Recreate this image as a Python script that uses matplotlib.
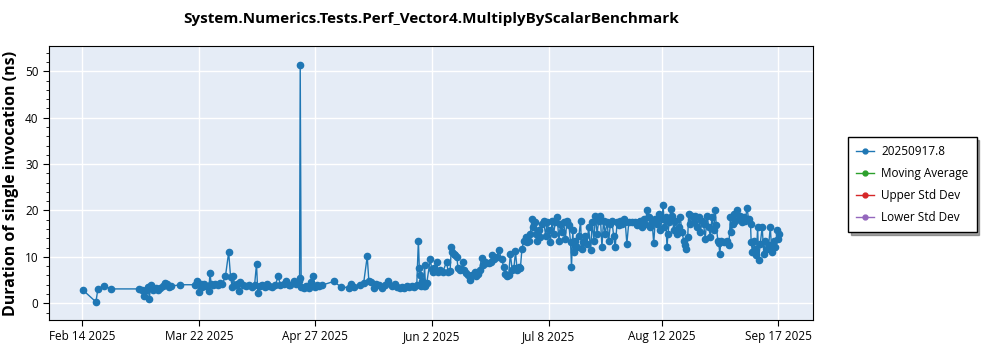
import datetime as dt

import matplotlib
matplotlib.use("Agg")
import matplotlib.pyplot as plt
from matplotlib.lines import Line2D

plt.rcParams["font.family"] = ["Open Sans", "DejaVu Sans"]

start = dt.datetime(2025, 2, 14)

# days after Feb 14 2025, and duration in ns
day_offset = [
    0.1, 4.2, 4.8, 6.6, 9.0, 17.4, 18.4, 19.0, 19.7, 20.3, 20.7, 21.1, 21.7, 22.6,
    23.4, 24.1, 24.8, 25.4, 26.2, 26.9, 27.5, 30.3,
    34.9, 35.4, 36.0, 36.5, 37.0, 37.7, 38.3, 39.1, 39.4, 39.8, 40.4, 41.1, 41.8,
    42.4, 43.2, 44.2, 45.2, 45.8, 46.3, 46.6, 47.1, 47.8, 48.3, 48.8, 49.7, 50.4,
    51.4, 52.4, 53.2, 53.8, 54.2, 54.8, 55.5, 56.3, 56.9, 57.6, 58.6, 59.6, 60.5,
    61.2, 62.2, 63.0, 63.8,
    64.2, 65.3, 66.0, 66.8, 67.1, 67.3, 67.6, 68.4, 69.1, 69.9, 70.7, 71.2, 71.8,
    72.5, 73.2, 74.0, 77.6, 80.0, 82.3, 83.1, 83.8, 85.9, 86.9, 88.0, 88.5, 89.3,
    90.0, 90.7, 91.5, 92.6, 93.6, 94.4, 95.5, 96.5,
    97.2, 98.0, 98.8, 99.5, 100.3, 101.0, 101.8, 102.5, 103.3,
    103.8, 104.1, 104.4, 104.7, 105.0, 105.4, 105.7, 106.0, 106.4, 107.5, 107.9,
    108.2, 108.6, 109.4, 109.9, 110.6, 111.4, 112.5, 113.0, 113.6, 114.0, 114.3,
    114.7, 115.2, 115.7, 116.0, 116.6, 117.1, 117.6, 118.0, 118.6, 119.2, 119.9,
    120.5, 121.2, 121.7, 122.2, 122.7, 123.3, 123.8, 124.3, 124.8, 125.5, 126.1,
    126.6, 127.2, 128.0, 128.6,
    129.5, 130.2, 130.7, 131.2, 131.7, 132.2, 132.8, 133.3, 133.8, 134.3,
    135.0, 135.3, 135.8, 136.4, 136.9, 137.4, 137.9, 138.4, 138.9, 139.2,
    139.8, 140.0, 140.5, 141.0, 141.5, 142.0, 142.5, 143.1, 143.6, 144.1,
    144.6, 145.1, 145.6, 146.1, 146.7, 147.2, 147.7, 148.2, 148.7, 149.2,
    149.7, 150.3, 150.8, 151.1, 151.5, 151.8, 152.3, 152.8, 153.4, 153.9,
    154.2, 154.7, 155.4, 155.9, 156.4, 157.0, 157.5, 158.0, 158.5, 159.0,
    159.5, 160.0, 160.5, 161.0, 161.5, 162.1, 162.6, 163.1, 163.6, 164.1,
    164.6, 165.2, 165.7, 166.2, 166.7, 167.2, 167.7, 168.2, 168.8, 169.8,
    170.8, 171.3, 171.8, 172.4, 172.9, 173.4, 173.9, 174.4, 174.9, 175.5,
    176.0, 176.5, 177.0, 177.5, 178.0, 178.5, 179.1, 179.4, 179.8, 180.2,
    180.6, 180.9, 181.3, 181.8, 182.2, 182.7, 183.2, 183.7, 184.2, 184.7,
    185.2, 185.8, 186.3, 186.6, 187.0, 187.3, 187.8, 188.3, 188.8, 189.4,
    189.9, 190.4, 190.9, 191.4, 191.9, 192.4, 193.0, 193.5,
    194.0, 194.5, 195.0, 195.5, 195.8, 196.3, 196.6, 196.9, 197.3, 198.1,
    199.1, 199.7, 200.2, 200.5, 200.9, 201.2, 201.7, 202.2, 202.7, 203.3,
    203.8, 204.3, 204.8, 205.3, 205.8, 206.4, 206.6, 207.0, 207.4, 207.9,
    208.2, 208.6, 208.9, 209.4, 210.0, 210.5, 211.0, 211.5, 212.0, 212.5,
    213.0, 213.6, 214.1, 214.6, 214.9, 215.2,
]
duration_ns = [
    2.9, 0.3, 3.1, 3.7, 3.1, 3.1, 2.9, 1.5, 2.8, 3.5, 1.0, 3.9, 2.9, 3.4,
    2.9, 3.4, 3.7, 4.4, 4.1, 3.5, 3.7, 4.0,
    4.0, 4.9, 2.4, 4.2, 3.5, 4.1, 3.7, 2.6, 6.6, 4.2, 3.9, 4.2, 3.9,
    4.4, 4.1, 5.8, 11.0, 5.6, 3.5, 5.8, 3.9, 4.2, 2.6, 4.6, 3.9, 3.7,
    4.0, 3.5, 3.9, 8.5, 2.2, 3.7, 3.9, 3.5, 4.1, 3.7, 3.5, 3.9, 5.8,
    3.9, 4.2, 4.9, 3.9,
    3.9, 4.9, 4.2, 4.9, 5.4, 51.3, 3.5, 3.2, 3.7, 3.4, 4.6, 5.9, 3.5,
    3.9, 3.7, 3.9, 4.7, 3.5, 3.4, 4.1, 3.5, 3.9, 4.4, 10.1, 4.8, 4.6,
    3.4, 4.2, 3.9, 3.2, 3.9, 4.7, 3.7, 4.1,
    3.5, 3.2, 3.6, 3.4, 3.7, 3.5, 3.8, 3.6, 3.9,
    13.5, 7.5, 6.0, 3.8, 4.8, 3.7, 8.2, 3.8, 4.4, 9.6, 7.4,
    6.8, 7.7, 9.0, 6.8, 7.1, 6.8, 9.0, 6.8, 7.0, 12.1, 11.0,
    10.7, 10.5, 10.0, 7.7, 7.1, 7.4, 9.0, 7.1, 6.5, 6.0, 5.1,
    6.0, 6.8, 5.8, 6.4, 7.1, 9.8, 8.2, 8.9, 8.6, 8.6, 8.9,
    10.3, 9.6, 10.0, 11.4,
    9.6, 7.8, 6.4, 5.8, 6.0, 10.7, 7.1, 7.5, 11.2, 7.2,
    7.8, 7.5, 11.8, 13.5, 14.3, 13.2, 13.5, 15.0, 18.2, 16.4,
    17.5, 15.0, 13.5, 15.7, 14.3, 17.1, 17.8, 14.6, 17.5, 15.7,
    13.2, 17.8, 15.0, 17.5, 18.6, 13.5, 17.1, 15.3, 17.5, 13.9,
    17.8, 16.8, 13.2, 7.8, 15.7, 11.0, 13.5, 12.1, 14.6, 17.8,
    11.8, 13.2, 14.6, 12.8, 16.4, 11.4, 17.5, 13.5, 18.9, 15.0,
    17.8, 18.9, 12.1, 17.8, 15.0, 17.5, 13.5, 17.1, 17.8, 14.6,
    12.1, 17.5, 16.8, 17.8, 17.1, 18.2, 17.5, 12.8, 17.5, 17.5,
    17.5, 16.8, 17.5, 17.8, 16.4, 18.2, 17.1, 20.0, 18.6, 16.4,
    17.5, 12.9, 18.2, 17.1, 19.3, 15.7, 18.2, 21.1, 16.4, 18.6,
    12.1, 15.0, 17.5, 20.3, 18.9, 15.7, 17.8, 15.0, 16.4, 18.6,
    15.3, 13.5, 12.5, 11.8, 14.3, 19.3, 17.1, 18.9, 17.5, 18.9,
    16.4, 18.6, 15.3, 17.8, 17.1, 13.9, 18.9, 16.4,
    14.3, 18.6, 15.7, 20.2, 16.8, 13.5, 13.0, 10.7, 13.5, 13.2,
    13.5, 12.5, 18.6, 15.3, 17.1, 19.3, 17.8, 20.0, 18.2, 18.9,
    17.5, 18.6, 17.8, 20.6, 18.2, 17.1, 13.2, 11.0, 13.5, 11.8,
    10.3, 16.4, 9.4, 12.8, 16.4, 10.7, 13.5, 11.8, 12.5, 16.4,
    11.0, 13.5, 12.1, 15.7, 13.9, 15.0,
]

tick_days = [0, 36, 72, 108, 144, 179, 215]
tick_labels = ["Feb 14 2025", "Mar 22 2025", "Apr 27 2025", "Jun 2 2025",
               "Jul 8 2025", "Aug 12 2025", "Sep 17 2025"]

legend_names = ["20250917.8", "Moving Average", "Upper Std Dev", "Lower Std Dev"]
legend_colors = ["#1f77b4", "#2ca02c", "#d62728", "#9467bd"]

dates = [start + dt.timedelta(days=d) for d in day_offset]

fig = plt.figure(figsize=(10, 3.5), dpi=100)
ax = fig.add_axes([0.049, 0.0857, 0.764, 0.783])
ax.set_facecolor("#E5ECF6")

ax.plot(dates, duration_ns, color="#1f77b4", linewidth=1.0, marker="o",
        markersize=4.5, zorder=3)

ax.set_xlim(start - dt.timedelta(days=10.3), start + dt.timedelta(days=225.7))
ax.set_ylim(-3.6, 55.45)
ax.set_xticks([start + dt.timedelta(days=d) for d in tick_days])
ax.set_xticklabels(tick_labels, fontsize=8.5)
ax.set_yticks([0, 10, 20, 30, 40, 50])
ax.set_yticks(range(-2, 56, 2), minor=True)
ax.tick_params(axis="y", labelsize=8.5, length=4)
ax.tick_params(axis="y", which="minor", length=2)
ax.tick_params(axis="x", length=4)
ax.grid(True, color="white", linewidth=1.0, zorder=0)
ax.set_axisbelow(True)
for s in ax.spines.values():
    s.set_color("black")

ax.set_ylabel("Duration of single invocation (ns)", fontsize=11.5, fontweight="bold")
fig.text(0.431, 0.945, "System.Numerics.Tests.Perf_Vector4.MultiplyByScalarBenchmark",
         ha="center", va="center", fontsize=11, fontweight="bold")

handles = [Line2D([0], [0], color=c, marker="o", markersize=3.5, linewidth=1)
           for c in legend_colors]
leg = fig.legend(handles, legend_names, loc="upper left",
                 bbox_to_anchor=(0.848, 0.609), borderaxespad=0,
                 fontsize=8.5, frameon=True, fancybox=False, shadow=True,
                 edgecolor="black", framealpha=1, handlelength=1.5,
                 handletextpad=0.6, borderpad=0.7, labelspacing=0.75)

fig.savefig("out.png", dpi=100)
